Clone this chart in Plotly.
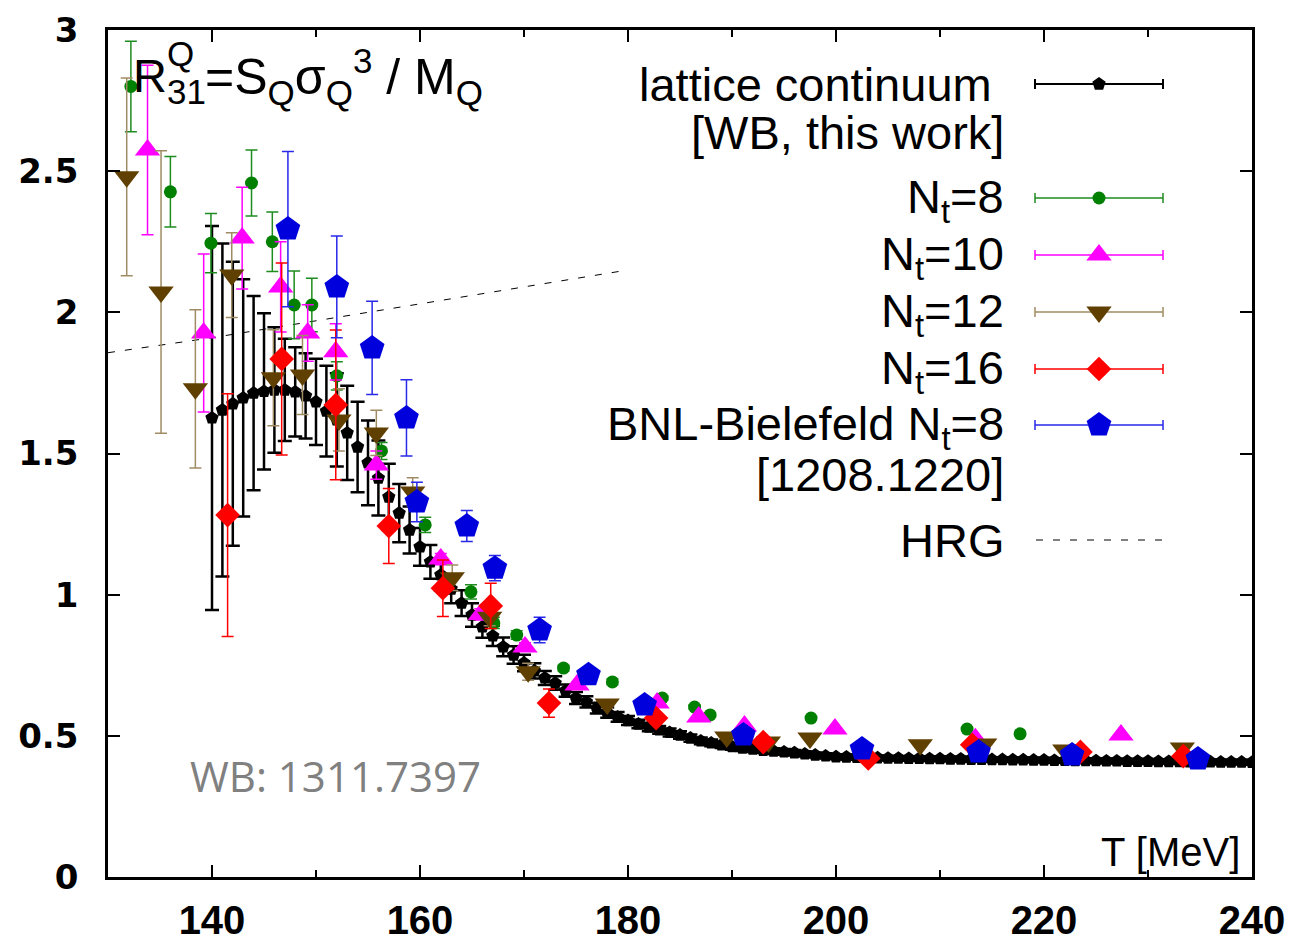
import plotly.graph_objects as go

# ---------------- data ----------------
T_lat = list(range(140, 241))
R_lat = [1.626, 1.654, 1.676, 1.697, 1.714, 1.720, 1.725, 1.725, 1.718, 1.704,
         1.683, 1.650, 1.619, 1.573, 1.523, 1.467, 1.413, 1.346, 1.289, 1.229,
         1.169, 1.116, 1.070, 1.020, 0.970, 0.928, 0.886, 0.854, 0.815, 0.786,
         0.758, 0.730, 0.705, 0.687, 0.660, 0.634, 0.620, 0.598, 0.582, 0.567,
         0.554, 0.542, 0.531, 0.521, 0.512, 0.503, 0.492, 0.482, 0.475, 0.468,
         0.462, 0.457, 0.453, 0.449, 0.446, 0.443, 0.440, 0.436, 0.432, 0.429,
         0.426, 0.425, 0.424, 0.423, 0.422, 0.421, 0.421, 0.420, 0.420, 0.419,
         0.419, 0.418, 0.418, 0.417, 0.417, 0.416, 0.416, 0.415, 0.415, 0.414,
         0.414, 0.413, 0.413, 0.412, 0.412, 0.412, 0.411, 0.411, 0.410, 0.410,
         0.410, 0.409, 0.409, 0.409, 0.408, 0.408, 0.408, 0.407, 0.407, 0.407,
         0.406]
E_lat = [0.680, 0.590, 0.503, 0.420, 0.344, 0.277, 0.222, 0.181, 0.158, 0.151,
         0.153, 0.161, 0.165, 0.167, 0.160, 0.150, 0.133, 0.118, 0.103, 0.083,
         0.067, 0.060, 0.055, 0.050, 0.046, 0.042, 0.039, 0.036, 0.033, 0.031,
         0.029, 0.027, 0.025, 0.024, 0.022, 0.021, 0.020, 0.019, 0.018, 0.017,
         0.016, 0.015, 0.015, 0.014, 0.014, 0.013, 0.013, 0.012, 0.012, 0.011,
         0.011, 0.011, 0.010, 0.010, 0.010, 0.010, 0.010, 0.009, 0.009, 0.009,
         0.009, 0.009, 0.009, 0.009, 0.008, 0.008, 0.008, 0.008, 0.008, 0.008,
         0.008, 0.008, 0.008, 0.008, 0.008, 0.008, 0.008, 0.008, 0.008, 0.008,
         0.008, 0.008, 0.008, 0.008, 0.008, 0.008, 0.008, 0.008, 0.008, 0.008,
         0.008, 0.008, 0.008, 0.008, 0.008, 0.008, 0.008, 0.008, 0.008, 0.008,
         0.008]

T_nt8 = [132.2, 136.0, 139.9, 143.8, 145.8, 147.9, 149.6, 152.0, 156.3, 160.5,
         164.9, 167.1, 169.3, 173.8, 178.5, 183.3, 186.4, 187.9, 197.6, 212.6, 217.7]
R_nt8 = [2.800, 2.427, 2.245, 2.458, 2.250, 2.026, 2.026, 1.775, 1.509, 1.247,
         1.010, 0.900, 0.857, 0.740, 0.691, 0.634, 0.602, 0.574, 0.563, 0.524, 0.507]
E_nt8 = [0.160, 0.125, 0.105, 0.117, 0.105, 0.120, 0.095, 0.050, 0.030, 0.027,
         0.025, 0.020, 0.015, 0.010, 0.010, 0.008, 0.008, 0.008, 0.006, 0.006, 0.006]

T_nt10 = [133.8, 139.2, 142.9, 146.6, 149.2, 151.9, 155.8, 162.0, 165.8, 170.1,
          175.1, 182.8, 186.8, 191.2, 199.9, 213.4, 227.4]
R_nt10 = [2.575, 1.927, 2.263, 2.090, 1.927, 1.860, 1.459, 1.126, 0.930, 0.815,
          0.680, 0.616, 0.567, 0.535, 0.524, 0.490, 0.503]
E_nt10 = [0.300, 0.280, 0.180, 0.160, 0.100, 0.100, 0.050, 0.020, 0.020, 0.015,
          0.010, 0.010, 0.008, 0.008, 0.006, 0.006, 0.006]

T_nt12 = [131.8, 135.1, 138.4, 141.9, 145.9, 148.7, 152.2, 155.8, 159.3, 163.1,
          166.7, 170.4, 178.0, 189.5, 193.5, 197.5, 208.1, 214.3, 222.0, 233.3]
R_nt12 = [2.480, 2.072, 1.729, 2.132, 1.768, 1.778, 1.619, 1.573, 1.364, 1.060,
          0.920, 0.727, 0.613, 0.496, 0.478, 0.492, 0.468, 0.471, 0.450, 0.457]
E_nt12 = [0.350, 0.500, 0.280, 0.150, 0.170, 0.140, 0.110, 0.080, 0.050, 0.045,
          0.030, 0.030, 0.015, 0.010, 0.010, 0.008, 0.008, 0.008, 0.008, 0.008]

T_nt16 = [141.5, 146.7, 151.9, 157.0, 162.2, 166.8, 172.4, 182.7, 193.0, 203.1,
          213.1, 223.5, 233.4]
R_nt16 = [1.282, 1.835, 1.672, 1.243, 1.023, 0.960, 0.616, 0.563, 0.478, 0.420,
          0.468, 0.443, 0.428]
E_nt16 = [0.430, 0.340, 0.265, 0.133, 0.100, 0.080, 0.050, 0.020, 0.015, 0.010,
          0.010, 0.010, 0.010]

T_bnl = [147.3, 152.0, 155.4, 158.7, 159.7, 164.5, 167.2, 171.5, 176.2, 181.6,
         191.1, 202.5, 213.7, 222.7, 234.8]
R_bnl = [2.295, 2.090, 1.874, 1.626, 1.328, 1.243, 1.094, 0.875, 0.716, 0.609,
         0.503, 0.453, 0.443, 0.432, 0.418]
E_bnl = [0.275, 0.180, 0.165, 0.135, 0.070, 0.055, 0.045, 0.045, 0.020, 0.015,
         0.010, 0.010, 0.010, 0.010, 0.010]

T_hrg = [130, 140, 150, 160, 170, 180]
R_hrg = [1.857, 1.910, 1.970, 2.030, 2.090, 2.150]

x_ticks = [140, 160, 180, 200, 220, 240]
y_ticks = [0, 0.5, 1, 1.5, 2, 2.5, 3]

# ---------------- geometry helpers (layout only) ----------------
W, H = 1299, 942
OFF = 8                      # page body margin in the screenshot
PL, PR, PT, PB = 108, 1252, 30, 877   # plot box in page pixels
ML, MT = PL - OFF, PT - OFF
MR, MB = W - (PR - OFF), H - (PB - OFF)
PW, PH = PR - PL, PB - PT


def px(x):
    return (x - PL) / PW


def py(y):
    return (PB - y) / PH


FONT = "Liberation Sans, Arial, sans-serif"

GREEN = "rgb(0,128,0)"
MAGENTA = "rgb(255,0,255)"
BROWN = "rgb(96,64,0)"
BROWN_E = "rgb(160,140,100)"
RED = "rgb(255,0,0)"
BLUE = "rgb(0,0,220)"

series = [
    dict(name="lattice continuum", x=T_lat, y=R_lat, e=E_lat, sym="pentagon", size=14,
         col="black", ecol="black", eth=2.5, ew=7, leth=2),
    dict(name="Nt=8", x=T_nt8, y=R_nt8, e=E_nt8, sym="circle", size=13,
         col=GREEN, ecol="rgb(30,140,30)", eth=1.5, ew=6, leth=1.5),
    dict(name="Nt=10", x=T_nt10, y=R_nt10, e=E_nt10, sym="triangle-up", size=22,
         col=MAGENTA, ecol=MAGENTA, eth=1.5, ew=6, leth=1.5),
    dict(name="Nt=12", x=T_nt12, y=R_nt12, e=E_nt12, sym="triangle-down", size=22,
         col=BROWN, ecol=BROWN_E, eth=1.5, ew=6, leth=1.5),
    dict(name="Nt=16", x=T_nt16, y=R_nt16, e=E_nt16, sym="diamond", size=19,
         col=RED, ecol=RED, eth=1.5, ew=6, leth=1.5),
    dict(name="BNL-Bielefeld", x=T_bnl, y=R_bnl, e=E_bnl, sym="pentagon", size=26,
         col=BLUE, ecol="rgb(40,40,235)", eth=1.5, ew=6, leth=1.5),
]

fig = go.Figure()

fig.add_trace(go.Scatter(x=T_hrg, y=R_hrg, mode="lines", showlegend=False,
                         line=dict(color="black", width=1, dash="7px,10px")))

for s in series:
    fig.add_trace(go.Scatter(
        x=s["x"], y=s["y"], mode="markers", showlegend=False, name=s["name"],
        marker=dict(symbol=s["sym"], size=s["size"], color=s["col"], line=dict(width=0)),
        error_y=dict(type="data", array=s["e"], color=s["ecol"],
                     thickness=s["eth"], width=s["ew"]),
    ))

# ---------------- manual legend (text left, sample right) ----------------
leg_rows = [84, 198, 255, 312, 369, 425]
x_mid = px(1099)
half = px(1163) - px(1099)
for s, row in zip(series, leg_rows):
    fig.add_trace(go.Scatter(
        x=[x_mid], y=[py(row)], xaxis="x2", yaxis="y2", mode="markers",
        showlegend=False, hoverinfo="skip",
        marker=dict(symbol=s["sym"], size=s["size"], color=s["col"], line=dict(width=0)),
        error_x=dict(type="data", array=[half], color=s["ecol"],
                     thickness=s["leth"], width=5),
    ))
fig.add_trace(go.Scatter(
    x=[px(1036), px(1163)], y=[py(540), py(540)], xaxis="x2", yaxis="y2",
    mode="lines", showlegend=False, hoverinfo="skip",
    line=dict(color="black", width=1, dash="7px,10px")))

ann = []
leg_text = [
    ("lattice continuum", 84, 994),
    ("[WB, this work]", 133, 1006),
    ("N<sub>t</sub>=8", 200, 1006),
    ("N<sub>t</sub>=10", 257, 1006),
    ("N<sub>t</sub>=12", 314, 1006),
    ("N<sub>t</sub>=16", 371, 1006),
    ("BNL-Bielefeld N<sub>t</sub>=8", 427, 1006),
    ("[1208.1220]", 475, 1006),
    ("HRG", 540, 1006),
]
for t, row, xr in leg_text:
    ann.append(dict(text=t, x=px(xr), y=py(row), xref="paper", yref="paper",
                    xanchor="right", yanchor="middle", showarrow=False,
                    font=dict(family=FONT, size=47, color="black")))

# quantity label
ann.append(dict(text="R", x=px(131), y=py(76), xref="paper", yref="paper",
                xanchor="left", yanchor="middle", showarrow=False,
                font=dict(family=FONT, size=47, color="black")))
ann.append(dict(text="Q", x=px(165), y=py(54), xref="paper", yref="paper",
                xanchor="left", yanchor="middle", showarrow=False,
                font=dict(family=FONT, size=35, color="black")))
ann.append(dict(text="31", x=px(165), y=py(91), xref="paper", yref="paper",
                xanchor="left", yanchor="middle", showarrow=False,
                font=dict(family=FONT, size=35, color="black")))
ann.append(dict(text="=S<sub>Q</sub>σ<sub>Q</sub><sup>3</sup> / M<sub>Q</sub>",
                x=px(203), y=py(77), xref="paper", yref="paper",
                xanchor="left", yanchor="middle", showarrow=False,
                font=dict(family=FONT, size=50, color="black")))

ann.append(dict(text="WB: 1311.7397", x=px(188), y=py(775), xref="paper", yref="paper",
                xanchor="left", yanchor="middle", showarrow=False,
                font=dict(family="Open Sans, sans-serif", size=42, color="rgb(128,128,128)")))

ann.append(dict(text="T [MeV]", x=px(1242), y=py(852), xref="paper", yref="paper",
                xanchor="right", yanchor="middle", showarrow=False,
                font=dict(family=FONT, size=40, color="black")))

axis_common = dict(showgrid=False, zeroline=False, showline=True, linecolor="black",
                   linewidth=2.5, mirror="allticks", ticks="inside", tickcolor="black",
                   tickwidth=2, ticklen=12)

fig.update_layout(
    width=W, height=H,
    margin=dict(l=ML, r=MR, t=MT, b=MB, autoexpand=False),
    paper_bgcolor="white", plot_bgcolor="white",
    showlegend=False,
    xaxis=dict(range=[130, 240], tickvals=x_ticks, ticktext=[str(v) for v in x_ticks],
               minor=dict(dtick=10, tick0=130, ticks="inside", ticklen=7, tickwidth=1.5,
                          tickcolor="black"),
               tickfont=dict(family=FONT, size=40, color="black", weight="bold"),
               ticklabelstandoff=6,
               **axis_common),
    yaxis=dict(range=[0, 3], tickvals=y_ticks, ticktext=[f"{v:g}" for v in y_ticks],
               tickfont=dict(family="DejaVu Sans, sans-serif", size=34, color="black",
                             weight="bold"),
               ticklabelstandoff=20,
               **axis_common),
    xaxis2=dict(overlaying="x", range=[0, 1], visible=False),
    yaxis2=dict(overlaying="y", range=[0, 1], visible=False),
    annotations=ann,
)

fig.write_html("out.html")
